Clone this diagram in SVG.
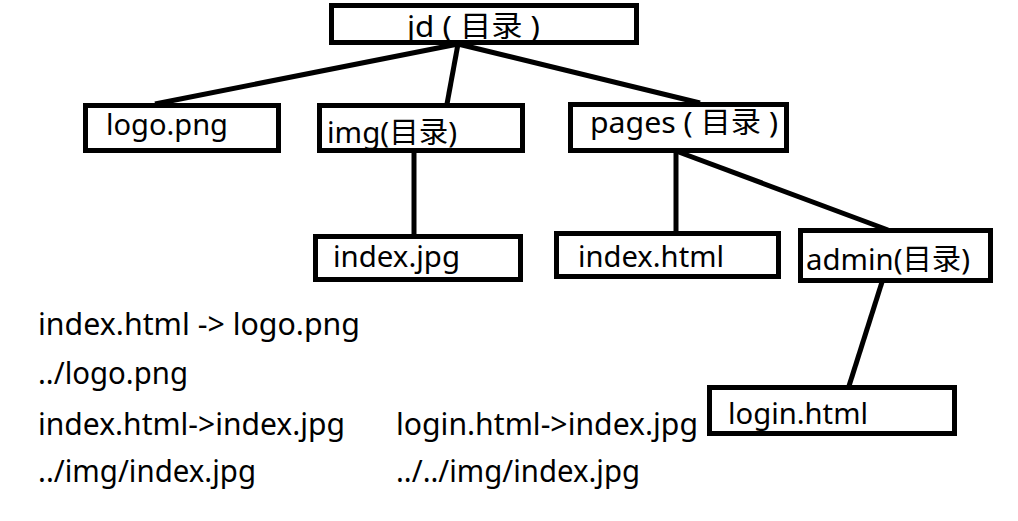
<svg xmlns="http://www.w3.org/2000/svg" width="1018" height="521" viewBox="0 0 1018 521">
<style>
.box{fill:none;stroke:#000;stroke-width:5}
.ln{stroke:#000;stroke-width:5;fill:none}
text{font-family:"Noto Sans","Noto Sans CJK SC",sans-serif;font-size:29px;fill:#000}
.note{font-size:30px}
</style>
<rect x="0" y="0" width="1018" height="521" fill="#fff"/>
<g id="connectors">
<line class="ln" x1="458" y1="44" x2="155" y2="104"/>
<line class="ln" x1="458" y1="44" x2="447" y2="104"/>
<line class="ln" x1="458" y1="44" x2="700" y2="103"/>
<line class="ln" x1="414" y1="152" x2="414" y2="235"/>
<line class="ln" x1="676" y1="151" x2="676" y2="232"/>
<line class="ln" x1="676" y1="151" x2="888" y2="230"/>
<line class="ln" x1="882" y1="282" x2="849" y2="386"/>
</g>
<g id="jd"><text x="407" y="37" textLength="133" lengthAdjust="spacingAndGlyphs">jd ( 目录 )</text><rect class="box" x="331.5" y="5.5" width="305" height="37"/></g>
<g id="logo"><text x="106" y="135" textLength="122" lengthAdjust="spacingAndGlyphs">logo.png</text><rect class="box" x="85.5" y="105.5" width="193" height="45"/></g>
<g id="img"><text x="327" y="143" textLength="130" lengthAdjust="spacingAndGlyphs">img(目录)</text><rect class="box" x="319.5" y="105.5" width="203" height="45"/></g>
<g id="pages"><text x="590" y="133" textLength="188" lengthAdjust="spacingAndGlyphs">pages ( 目录 )</text><rect class="box" x="570.5" y="104.5" width="216" height="46"/></g>
<g id="indexjpg"><text x="333" y="267" textLength="127" lengthAdjust="spacingAndGlyphs">index.jpg</text><rect class="box" x="315.5" y="236.5" width="205" height="43"/></g>
<g id="indexhtml"><text x="578" y="267" textLength="146" lengthAdjust="spacingAndGlyphs">index.html</text><rect class="box" x="556.5" y="233.5" width="222" height="43"/></g>
<g id="admin"><text x="806" y="270" textLength="164" lengthAdjust="spacingAndGlyphs">admin(目录)</text><rect class="box" x="800.5" y="230.5" width="190" height="50"/></g>
<g id="login"><text x="728" y="424" textLength="140" lengthAdjust="spacingAndGlyphs">login.html</text><rect class="box" x="709.5" y="387.5" width="245" height="46"/></g>
<g id="notes">
<text class="note" x="38" y="335" textLength="322" lengthAdjust="spacingAndGlyphs">index.html -&gt; logo.png</text>
<text class="note" x="38" y="384" textLength="150" lengthAdjust="spacingAndGlyphs">../logo.png</text>
<text class="note" x="38" y="435" textLength="307" lengthAdjust="spacingAndGlyphs">index.html-&gt;index.jpg</text>
<text class="note" x="396" y="435" textLength="302" lengthAdjust="spacingAndGlyphs">login.html-&gt;index.jpg</text>
<text class="note" x="38" y="482" textLength="218" lengthAdjust="spacingAndGlyphs">../img/index.jpg</text>
<text class="note" x="396" y="482" textLength="244" lengthAdjust="spacingAndGlyphs">../../img/index.jpg</text>
</g>
</svg>
